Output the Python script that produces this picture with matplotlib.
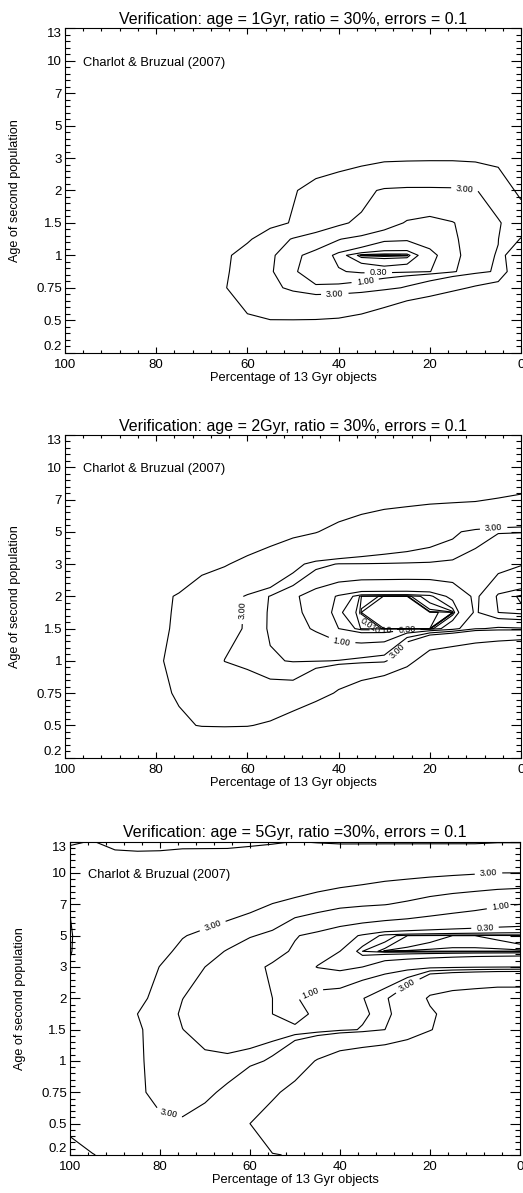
import numpy as np
import matplotlib
matplotlib.use('Agg')
import matplotlib.pyplot as plt

plt.rcParams['font.family'] = ['Liberation Sans', 'DejaVu Sans']

# Сетка: доля 13 Gyr объектов (%) и возраст второй популяции (Gyr)
pct = [100, 95, 90, 85, 80, 75, 70, 65, 60, 55, 50, 45, 40, 35, 30, 25, 20, 15, 10, 5, 0]
tick_ages = [0.2, 0.5, 0.75, 1, 1.5, 2, 3, 5, 7, 10, 13]
tick_labels = ['0.2', '0.5', '0.75', '1', '1.5', '2', '3', '5', '7', '10', '13']
ages_1 = [0.2, 0.5, 0.75, 0.875, 1, 1.25, 1.5, 2, 3, 5, 7, 10, 13]
ages_2 = [0.2, 0.5, 0.75, 1, 1.5, 1.75, 2, 3, 5, 7, 10, 13]
ages_5 = [0.2, 0.5, 0.75, 1, 1.5, 1.75, 2, 3, 4, 5, 7, 10, 13]

levels_1 = [0.001, 0.003, 0.01, 0.03, 0.1, 0.3, 1, 3, 10]
levels_25 = [0.001, 0.003, 0.01, 0.03, 0.1, 0.3, 1, 2, 3, 10]

# chi^2, age = 1 Gyr (строки снизу вверх по ages_1)
chi_1gyr = [
    [22, 22, 22, 22, 22, 22, 22, 22, 22, 22, 22, 22, 23, 24, 25, 26, 27, 27, 28, 28, 28],
    [18, 18, 17, 17, 16, 15, 14.5, 14, 10.75, 10.1, 10.1, 10.2, 10.6, 12, 15, 20, 24, 27, 28, 28, 29],
    [16, 16, 15, 15, 14, 13, 12, 10.3, 7, 4, 2.2, 1.1, 1.2, 1.5, 2.2, 3.3, 5, 8, 11, 14, 22],
    [15, 15, 14.5, 14, 13.5, 12.5, 12, 10.8, 7, 3.3, 1.1, 0.6, 0.35, 0.2, 0.15, 0.18, 0.28, 0.8, 2, 3.5, 20],
    [14, 14, 13.5, 13, 12.5, 12, 11.8, 11.3, 7, 3.5, 1.2, 0.7, 0.15, 0.004, 0.0003, 0.004, 0.2, 0.5, 1.9, 3.2, 25],
    [15, 15, 14.5, 14, 13.5, 13, 12.5, 12, 11, 6, 2.6, 1.6, 1.05, 0.6, 0.35, 0.33, 0.45, 0.8, 1.6, 2.9, 10.5],
    [17, 16, 16, 15, 15, 14, 13.5, 13, 13, 12, 9.5, 5, 3.4, 2.5, 1.5, 0.9, 0.7, 0.95, 1.5, 2.7, 5],
    [18, 17, 17, 16, 16, 15, 15, 14, 13, 12, 10.5, 8, 6, 4, 2.5, 2.2, 2.2, 2.3, 2.8, 5, 12],
    [20, 19, 19, 18, 17, 17, 16, 16, 15, 15, 14, 13.5, 13, 12, 11, 10.8, 10.7, 10.7, 11, 12, 14],
    [21, 21, 20, 20, 20, 19, 19, 19, 18, 18, 17, 17, 16, 16, 15, 15, 15, 15, 15, 16, 17],
    [22, 22, 22, 21, 21, 21, 20, 20, 20, 20, 19, 19, 19, 18, 18, 18, 18, 18, 18, 19, 20],
    [23, 23, 23, 23, 22, 22, 22, 22, 22, 21, 21, 21, 21, 20, 20, 20, 20, 20, 20, 21, 22],
    [24, 24, 24, 24, 24, 24, 23, 23, 23, 23, 23, 22, 22, 22, 22, 22, 22, 22, 22, 23, 24],
]

# chi^2, age = 2 Gyr (строки по ages_2)
chi_2gyr = [
    [25, 24, 23, 22.5, 22, 21.5, 21.5, 21.5, 22, 23, 25, 27.5, 30, 32.5, 35, 37, 38.5, 40, 41, 42, 42.5],
    [20, 19, 17.5, 16, 14, 11, 9.65, 9.48, 9.65, 11, 15, 20, 25, 27.5, 30, 32.5, 34, 35, 36, 37.5, 39],
    [17.5, 16.5, 15, 13.5, 11.5, 9.3, 7.9, 6.5, 4.75, 3.7, 3.7, 6.5, 11, 15, 19, 22.5, 25, 26, 27.5, 29, 30],
    [16, 15, 14, 12.5, 10.5, 8.95, 6.5, 2.93, 2.36, 2.09, 1.95, 1.95, 2.03, 2.21, 2.43, 7.2, 15, 17.5, 20, 22.5, 25],
    [15, 14, 13, 12, 11, 9.3, 7.2, 4.4, 2.57, 1.9, 1.3, 0.9, 0.3, 0.02, 0.0008, 0.0008, 0.001, 0.6, 1.9, 2.14, 2.07],
    [15, 14, 13, 12, 11, 9.48, 7.2, 4.4, 2.64, 1.9, 1.2, 0.7, 0.12, 0.0009, 0.0003, 0.0003, 0.0004, 0.002, 1.1, 0.3, 0.14],
    [15, 14, 13, 12, 11, 9.65, 7.2, 4.4, 2.71, 1.95, 1.15, 0.6, 0.25, 0.01, 0.0006, 0.0008, 0.05, 0.4, 1.15, 0.22, 0.07],
    [17.5, 17, 16, 15, 14, 13, 11.5, 10.5, 8.25, 5.8, 3.7, 2.29, 1.95, 1.95, 1.93, 1.9, 1.88, 1.8, 1.6, 1.33, 1.05],
    [22.5, 22, 21, 20, 19, 18, 17, 16, 15, 13.5, 11.5, 10.25, 8.25, 6.5, 5.45, 4.75, 4.05, 3.35, 2.43, 2.04, 2.03],
    [25, 24, 23, 22, 21, 20, 19, 18, 17, 16, 15, 14.5, 14, 13, 12, 11.5, 11, 10.75, 10.5, 9.65, 8.6],
    [27.5, 27, 26.5, 26, 25.5, 25, 24.5, 24, 23.5, 23, 22.5, 22, 21.5, 21, 20.5, 20, 19.5, 19, 18.5, 17.5, 17],
    [30, 29.5, 29, 28.5, 28, 27.5, 27, 26.5, 26, 25.5, 25, 24.5, 24, 23.5, 23, 22.5, 22, 21.5, 21, 20, 19.5],
]

# chi^2, age = 5 Gyr (строки по ages_5)
chi_5gyr = [
    [15, 10.25, 8.25, 7.2, 6.5, 6.5, 7.2, 8.95, 9.65, 9.83, 10.25, 12.5, 15, 17, 18.5, 20, 21, 22, 23, 24, 25],
    [6.5, 5.45, 4.4, 3.7, 3.175, 3.14, 3.7, 5.8, 10, 13, 15, 17, 19, 20, 21, 22.5, 24, 25, 26, 27, 28],
    [7.2, 5.8, 4.75, 3.175, 2.71, 2.5, 2.64, 3.35, 5.8, 8.95, 12, 15, 17.5, 20, 21, 22.5, 24, 25, 26, 27, 28],
    [7.2, 6.15, 4.75, 3.175, 2.57, 2.29, 2.14, 2.14, 2.43, 3.35, 6.5, 10.5, 14, 16, 17.5, 19, 20, 21, 22, 23, 24],
    [7.9, 6.5, 5.1, 3.175, 2.43, 2.01, 1.75, 1.55, 1.35, 1.2, 1.15, 1.25, 1.7, 2.09, 3.0, 5.8, 9.65, 13, 15, 16, 17],
    [7.9, 6.85, 5.45, 3.0, 2.43, 1.9, 1.6, 1.4, 1.2, 1.0, 0.7, 1.2, 1.5, 1.8, 2.43, 4.4, 8.95, 12.5, 14, 15, 16],
    [8.25, 7.2, 5.8, 3.35, 2.57, 2.01, 1.7, 1.5, 1.3, 1.0, 0.95, 1.25, 1.4, 1.95, 2.71, 4.75, 11, 13, 14, 15, 15],
    [9.3, 5.1, 4.4, 3.7, 2.97, 2.43, 2.0, 1.5, 1.2, 0.9, 0.6, 0.28, 0.15, 0.3, 0.5, 0.6, 0.7, 0.8, 0.9, 0.95, 1.0],
    [10.5, 4.75, 4.4, 4.05, 3.35, 2.71, 2.29, 1.95, 1.5, 1.25, 0.9, 0.5, 0.3, 0.03, 0.0008, 0.0005, 0.0004, 0.0004, 0.0004, 0.0004, 0.0005],
    [10.75, 4.4, 4.05, 3.7, 3.35, 3.07, 2.71, 2.36, 2.07, 1.8, 1.05, 0.8, 0.5, 0.25, 0.05, 0.01, 0.005, 0.003, 0.003, 0.004, 0.006],
    [9.65, 5.45, 5.1, 4.93, 4.75, 4.4, 4.05, 3.7, 3.35, 2.97, 2.71, 2.43, 2.21, 2.11, 2.03, 1.85, 1.6, 1.4, 1.25, 1.1, 1.0],
    [6.5, 6.15, 5.8, 5.45, 5.1, 4.93, 4.75, 4.58, 4.4, 4.23, 4.05, 3.88, 3.7, 3.53, 3.35, 3.28, 3.21, 3.14, 3.07, 2.99, 2.96],
    [10.5, 9.83, 11.5, 12, 12, 11.5, 11.5, 11.5, 11, 10.5, 9.93, 10.25, 10.5, 10.5, 10.5, 10.5, 10.5, 10.5, 10.5, 10.25, 10.25],
]

# места подписей изолиний (x в %, y в делениях оси)
labels_1 = {3: [(40.8, 1.6), (12.3, 5.07)], 1: [(34.2, 2.24)], 0.3: [(31.3, 2.47)]}
labels_2 = {3: [(63.1, 4.58), (27.3, 3.34), (6.1, 7.29)], 1: [(39.3, 3.65)],
            0.3: [(25.1, 4.0)], 0.1: [(30.2, 4.06)], 0.01: [(33.4, 4.16)]}
labels_5 = {3: [(68.5, 7.39), (78.5, 1.06), (7.0, 8.99), (24.8, 5.37)],
            1: [(4.4, 7.98), (47.0, 5.27)], 0.3: [(7.8, 7.34)]}

panels = [
    (chi_1gyr, ages_1, levels_1, labels_1, 'Verification: age = 1Gyr, ratio = 30%, errors = 0.1',
     [0.1243, 0.7044, 0.8719, 0.2719]),
    (chi_2gyr, ages_2, levels_25, labels_2, 'Verification: age = 2Gyr, ratio = 30%, errors = 0.1',
     [0.1243, 0.3649, 0.8719, 0.2705]),
    (chi_5gyr, ages_5, levels_25, labels_5, 'Verification: age = 5Gyr, ratio =30%, errors = 0.1',
     [0.1338, 0.0319, 0.8604, 0.2626]),
]

fig = plt.figure(figsize=(5.23, 11.93), dpi=100)

for chi, ages, levels, labpos, title, rect in panels:
    ax = fig.add_axes(rect)
    ax.set_xlim(100, 0)
    ax.set_ylim(0, 10)
    # возраст -> позиция на оси (равномерные деления по меткам)
    ypos = np.interp(ages, tick_ages, np.arange(len(tick_ages)))
    X, Y = np.meshgrid(pct, ypos)
    Z = np.array(chi)
    # уровни без подписей
    plain = [l for l in levels if l not in labpos]
    ax.contour(X, Y, Z, levels=plain, colors='k', linewidths=0.8)
    # подписанные уровни - по одному, чтобы ставить подписи вручную
    for lev, pos in labpos.items():
        c1 = ax.contour(X, Y, Z, levels=[lev], colors='k', linewidths=0.8)
        ax.clabel(c1, inline=True, fmt='%.2f', fontsize=6.5, manual=pos)

    ax.set_xticks([100, 80, 60, 40, 20, 0])
    ax.set_xticks(np.arange(0, 101, 4), minor=True)
    ax.set_yticks(np.arange(11))
    ax.set_yticklabels(tick_labels)
    ax.set_yticks(np.arange(0, 10.01, 0.2), minor=True)
    ax.tick_params(which='both', direction='in', top=True, right=True, labelsize=9.5, width=0.8)
    ax.tick_params(axis='x', which='major', length=4.5, pad=4.3)
    ax.tick_params(axis='x', which='minor', length=2.2)
    ax.tick_params(axis='y', which='major', length=7, pad=2.2)
    ax.tick_params(axis='y', which='minor', length=3.5)
    yl = ax.get_yticklabels()
    yl[0].set_va('bottom')
    yl[-1].set_va('top')
    for sp in ax.spines.values():
        sp.set_linewidth(0.8)

    ax.set_title(title, fontsize=11.5, pad=3)
    ax.set_xlabel('Percentage of 13 Gyr objects', fontsize=9.3, labelpad=1)
    ax.set_ylabel('Age of second population', fontsize=9.1, labelpad=11)
    ax.text(0.04, 0.893, 'Charlot & Bruzual (2007)', transform=ax.transAxes,
            fontsize=9.3, va='center', ha='left')

fig.savefig('out.png', dpi=100)
